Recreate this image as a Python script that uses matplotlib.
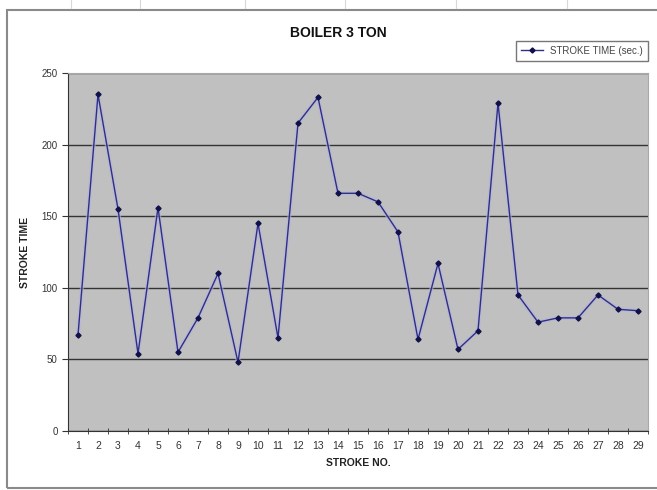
import numpy as np
import matplotlib.pyplot as plt
from matplotlib.patches import Rectangle
from matplotlib.lines import Line2D

strokes = list(range(1, 30))
stroke_time = [67, 235, 155, 54, 156, 55, 79, 110, 48, 145, 65, 215, 233, 166, 166,
               160, 139, 64, 117, 57, 70, 229, 95, 76, 79, 79, 95, 85, 84]
y_ticks = [0, 50, 100, 150, 200, 250]

plt.rcParams["font.family"] = ["Liberation Sans", "DejaVu Sans"]

fig = plt.figure(figsize=(6.57, 4.9), dpi=100)
W, H = 657, 490

# spreadsheet frame around the chart
fig.add_artist(Rectangle((7 / W, 1 - 488 / H), 1.2, (488 - 10) / H, transform=fig.transFigure,
                         fill=False, edgecolor="#8a8a8a", linewidth=1.5))
for gx in [71, 140, 245, 345, 456, 567]:
    fig.add_artist(Line2D([gx / W, gx / W], [1 - 8 / H, 1.0], transform=fig.transFigure,
                          color="#d8d8d8", linewidth=0.8))

ax = fig.add_axes([68 / W, 1 - 431 / H, (648 - 68) / W, (431 - 73) / H])
ax.set_facecolor("#c0c0c0")

# soft halo like the jpeg blur around the series
ax.plot(strokes, stroke_time, color="#b4b4d8", linewidth=3.0, zorder=2, alpha=0.6)
ax.plot(strokes, stroke_time, color="#2e2e88", linewidth=1.0, marker="D", markersize=2.6,
        markerfacecolor="#10104a", markeredgecolor="#10104a", label="STROKE TIME (sec.)", zorder=3)

ax.set_xlim(0.5, 29.5)
ax.set_ylim(0, 250)
ax.set_yticks(y_ticks)
ax.set_xticks(strokes)
ax.set_xticks(np.arange(0.5, 30, 1), minor=True)
ax.tick_params(axis="x", which="major", length=0, labelsize=7.5, colors="#333333", pad=7)
ax.tick_params(axis="x", which="minor", length=4, direction="inout", color="#333333")
ax.tick_params(axis="y", length=4, labelsize=7, colors="#333333", direction="out")
ax.grid(axis="y", color="#333333", linewidth=1.0)
ax.set_axisbelow(True)
for s in ["top", "right"]:
    ax.spines[s].set_color("#a8a8a8")
for s in ["left", "bottom"]:
    ax.spines[s].set_color("#333333")

ax.set_xlabel("STROKE NO.", fontsize=7.5, fontweight="bold", color="#222222", labelpad=5)
ax.set_ylabel("STROKE TIME", fontsize=7.5, fontweight="bold", color="#222222", labelpad=8)

fig.text(338 / W, 1 - 33 / H, "BOILER 3 TON", ha="center", va="center",
         fontsize=10, fontweight="bold", color="#111111")

leg = ax.legend(loc="upper right", bbox_to_anchor=(648 / W, 1 - 41 / H),
                bbox_transform=fig.transFigure, fontsize=7, frameon=True, fancybox=False,
                edgecolor="#555555", borderpad=0.5, handlelength=2.2, borderaxespad=0)
leg.get_frame().set_linewidth(1.0)
for t in leg.get_texts():
    t.set_color("#444444")

fig.savefig("out.png", dpi=100)
